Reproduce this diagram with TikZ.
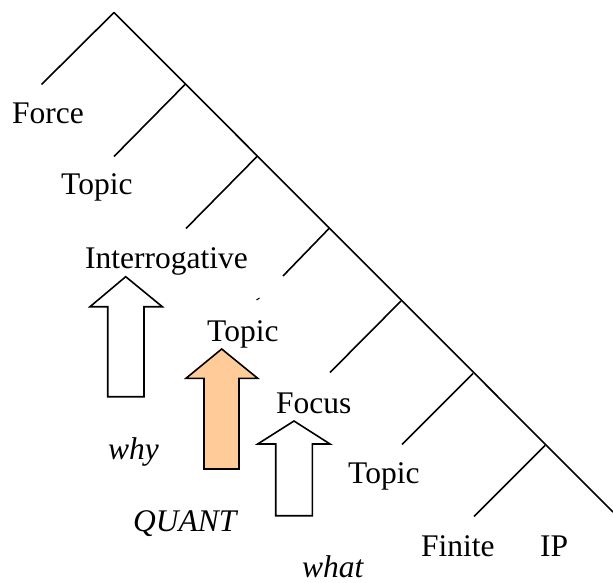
\documentclass[tikz,border=0pt]{standalone}
\usepackage{fontspec}
\setmainfont{Liberation Serif}
\definecolor{quantorange}{RGB}{255,204,153}
\begin{document}
\begin{tikzpicture}[x=1pt,y=-1pt,
  tree/.style={line width=1.6pt, line cap=butt},
  lbl/.style={inner sep=0pt, anchor=base west, font=\fontsize{31.5}{36}\selectfont},
  ilbl/.style={inner sep=0pt, anchor=base west, font=\fontsize{31.5}{36}\selectfont\itshape},
  blockarrow/.style={draw, line width=1.6pt, fill=white, line join=miter},
  quantarrow/.style={blockarrow, fill=quantorange}]
\useasboundingbox (0,0) rectangle (613,583);
% spine
\coordinate (top) at (114,12.5);
\coordinate (b1) at (185,84.5);
\coordinate (b2) at (257,156.5);
\coordinate (b3) at (329,228.5);
\coordinate (b4) at (401,301);
\coordinate (b5) at (473,373.5);
\coordinate (b6) at (545,445.5);
\coordinate (bend) at (613,512);
% left daughters
\coordinate (l0) at (41.5,84.5);
\coordinate (l1) at (114,156.5);
\coordinate (l2) at (186,228.5);
\coordinate (l3) at (283,276);
\coordinate (l3a) at (259.5,298);
\coordinate (l3b) at (256.5,300);
\coordinate (l4) at (330,372.5);
\coordinate (l5) at (402,444.5);
\coordinate (l6) at (474,516.5);
\draw[tree] (top) -- (bend);
\draw[tree] (top) -- (l0);
\draw[tree] (b1) -- (l1);
\draw[tree] (b2) -- (l2);
\draw[tree] (b3) -- (l3);
\draw[line width=1pt] (l3a) -- (l3b);
\draw[tree] (b4) -- (l4);
\draw[tree] (b5) -- (l5);
\draw[tree] (b6) -- (l6);
% labels
\node[lbl] (force) at (12,123.5) {Force};
\node[lbl] (topic1) at (61,194) {Topic};
\node[lbl] (interr) at (85,268) {Interrogative};
\node[lbl] (topic2) at (207,341) {Topic};
\node[lbl] (focus) at (276,413) {Focus};
\node[lbl] (topic3) at (348,483) {Topic};
\node[lbl] (finite) at (421,556) {Finite};
\node[lbl] (ip) at (540,556) {IP};
\node[ilbl] (why) at (108,459) {why};
\node[ilbl] (quant) at (133,531) {QUANT};
\node[ilbl, text depth=0pt] (what) at (302,577.5) {what};
% block arrows
\draw[blockarrow] (125.7,276.7) -- (162.3,306.7) -- (144,306.7) -- (144,396.7)
  -- (107.7,396.7) -- (107.7,306.7) -- (90,306.7) -- cycle;
\draw[quantarrow] (221.7,349) -- (257.7,378.3) -- (239,378.3) -- (239,469)
  -- (204,469) -- (204,378.3) -- (186,378.3) -- cycle;
\draw[blockarrow] (294,421) -- (330,444) -- (312.3,444) -- (312.3,515.7)
  -- (275.7,515.7) -- (275.7,444) -- (257.7,444) -- cycle;
\end{tikzpicture}
\end{document}
